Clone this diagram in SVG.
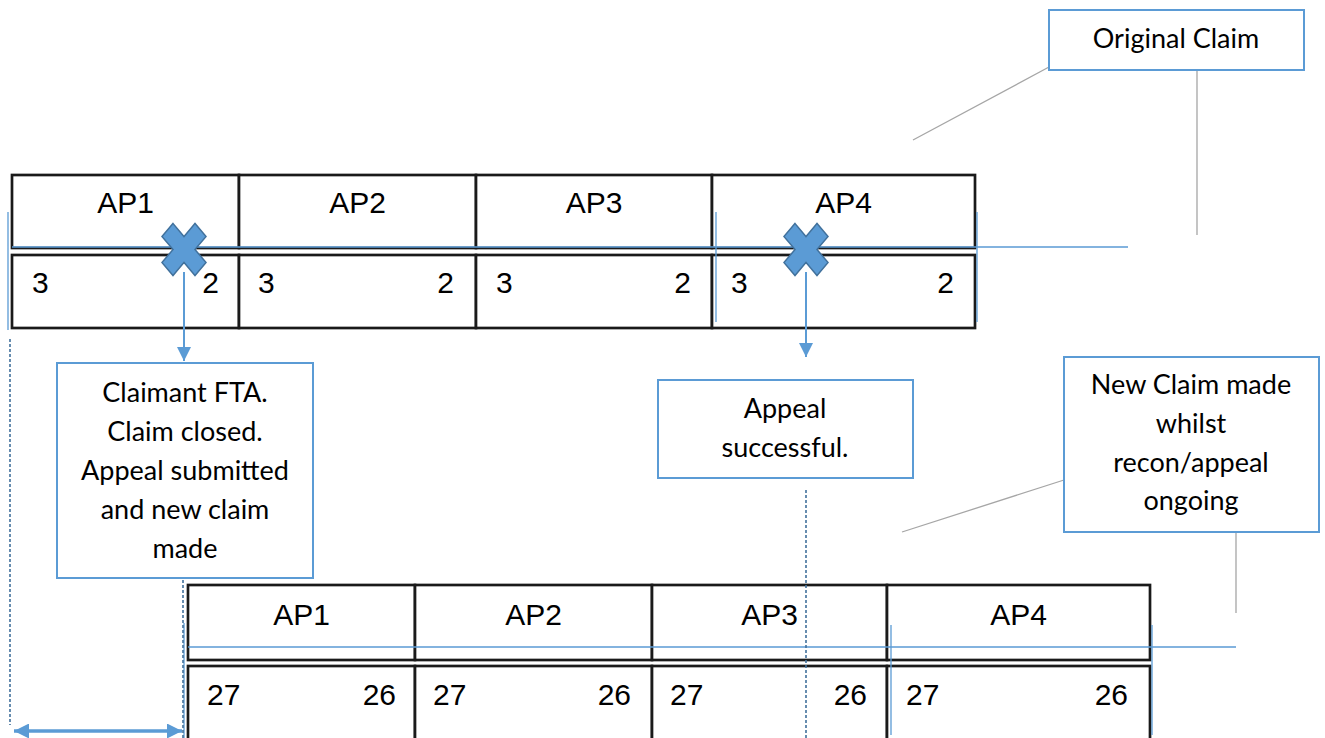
<svg xmlns="http://www.w3.org/2000/svg" width="1325" height="738" viewBox="0 0 1325 738">
<defs>
<style>
.cell{fill:#fff;stroke:#1a1a1a;stroke-width:2.7}
.t{font-family:"Liberation Sans",Arial,sans-serif;font-size:30px;fill:#000}
.c{font-family:"Lato","Open Sans",sans-serif;font-size:27px;fill:#000;text-anchor:middle}
.box{fill:#fff;stroke:#5B9BD5;stroke-width:2}
.blue{stroke:#5B9BD5;stroke-width:1.3;fill:none}
.gray{stroke:#A6A6A6;stroke-width:1.3;fill:none}
.dot{stroke:#41719C;stroke-width:1.6;stroke-dasharray:3 2;fill:none}
.arr{stroke:#5B9BD5;stroke-width:2;fill:none}
.x{fill:#5B9BD5;stroke:#41719C;stroke-width:1.4}
</style>
<marker id="ah" viewBox="0 0 10 10" refX="10" refY="5" markerWidth="14" markerHeight="15" markerUnits="userSpaceOnUse" orient="auto"><path d="M0,0L10,5L0,10z" fill="#5B9BD5"/></marker>
<marker id="ah2" viewBox="0 0 10 10" refX="10" refY="5" markerWidth="16" markerHeight="15" markerUnits="userSpaceOnUse" orient="auto-start-reverse"><path d="M0,0L10,5L0,10z" fill="#5B9BD5"/></marker>
<path id="xs" d="M-11,-22L0,-11L11,-22L22,-11L11,0L22,11L11,22L0,11L-11,22L-22,11L-11,0L-22,-11z"/>
</defs>

<g id="table-original">
<rect class="cell" x="12" y="175" width="227" height="73"/>
<rect class="cell" x="239" y="175" width="237" height="73"/>
<rect class="cell" x="476" y="175" width="236" height="73"/>
<rect class="cell" x="712" y="175" width="263" height="73"/>
<rect class="cell" x="12" y="255" width="227" height="73"/>
<rect class="cell" x="239" y="255" width="237" height="73"/>
<rect class="cell" x="476" y="255" width="236" height="73"/>
<rect class="cell" x="712" y="255" width="263" height="73"/>
<text class="t" x="125.5" y="213" text-anchor="middle">AP1</text>
<text class="t" x="357.5" y="213" text-anchor="middle">AP2</text>
<text class="t" x="594" y="213" text-anchor="middle">AP3</text>
<text class="t" x="843.5" y="213" text-anchor="middle">AP4</text>
<text class="t" x="32" y="293">3</text><text class="t" x="219" y="293" text-anchor="end">2</text>
<text class="t" x="258" y="293">3</text><text class="t" x="454" y="293" text-anchor="end">2</text>
<text class="t" x="496" y="293">3</text><text class="t" x="691" y="293" text-anchor="end">2</text>
<text class="t" x="731" y="293">3</text><text class="t" x="954" y="293" text-anchor="end">2</text>
</g>

<g id="table-new">
<rect class="cell" x="188" y="585" width="227" height="75"/>
<rect class="cell" x="415" y="585" width="237" height="75"/>
<rect class="cell" x="652" y="585" width="235" height="75"/>
<rect class="cell" x="887" y="585" width="263" height="75"/>
<rect class="cell" x="188" y="666" width="227" height="80"/>
<rect class="cell" x="415" y="666" width="237" height="80"/>
<rect class="cell" x="652" y="666" width="235" height="80"/>
<rect class="cell" x="887" y="666" width="263" height="80"/>
<text class="t" x="301.5" y="625" text-anchor="middle">AP1</text>
<text class="t" x="533.5" y="625" text-anchor="middle">AP2</text>
<text class="t" x="769.5" y="625" text-anchor="middle">AP3</text>
<text class="t" x="1018.5" y="625" text-anchor="middle">AP4</text>
<text class="t" x="207" y="705">27</text><text class="t" x="396" y="705" text-anchor="end">26</text>
<text class="t" x="433" y="705">27</text><text class="t" x="631" y="705" text-anchor="end">26</text>
<text class="t" x="670" y="705">27</text><text class="t" x="867" y="705" text-anchor="end">26</text>
<text class="t" x="906" y="705">27</text><text class="t" x="1128" y="705" text-anchor="end">26</text>
</g>

<g id="connectors">
<path class="blue" d="M12,247H1128M8,212V330M716,212V322M977,212V322"/>
<path class="blue" d="M188,647H1236M184,623V738M891,625V735M1152,625V735"/>
<path class="gray" d="M1049,67L913,140M1197,68V235M1064,480L902,532M1236,521V613"/>
<path class="dot" d="M10,339V725M183,565V738M806,490V738"/>
<line class="arr" x1="184" y1="272" x2="184" y2="361" marker-end="url(#ah)"/>
<line class="arr" x1="806" y1="272" x2="806" y2="357" marker-end="url(#ah)"/>
<line x1="14" y1="731" x2="182" y2="731" stroke="#5B9BD5" stroke-width="3.5" marker-start="url(#ah2)" marker-end="url(#ah2)"/>
</g>

<g id="x-ap1"><use href="#xs" class="x" transform="translate(184,249.5) scale(1,1.18)"/></g>
<g id="x-ap4"><use href="#xs" class="x" transform="translate(806,249.5) scale(1,1.18)"/></g>

<g id="original-claim">
<rect class="box" x="1049" y="10" width="255" height="60"/>
<text class="c" x="1176" y="48">Original Claim</text>
</g>

<g id="claimant-fta">
<rect class="box" x="57" y="363" width="256" height="215"/>
<text class="c" x="185" y="402">Claimant FTA.</text>
<text class="c" x="185" y="441">Claim closed.</text>
<text class="c" x="185" y="480">Appeal submitted</text>
<text class="c" x="185" y="519">and new claim</text>
<text class="c" x="185" y="558">made</text>
</g>

<g id="appeal-successful">
<rect class="box" x="658" y="380" width="255" height="98"/>
<text class="c" x="785" y="418">Appeal</text>
<text class="c" x="785" y="457">successful.</text>
</g>

<g id="new-claim">
<rect class="box" x="1064" y="357" width="255" height="175"/>
<text class="c" x="1191" y="394">New Claim made</text>
<text class="c" x="1191" y="433">whilst</text>
<text class="c" x="1191" y="472">recon/appeal</text>
<text class="c" x="1191" y="510">ongoing</text>
</g>
</svg>
